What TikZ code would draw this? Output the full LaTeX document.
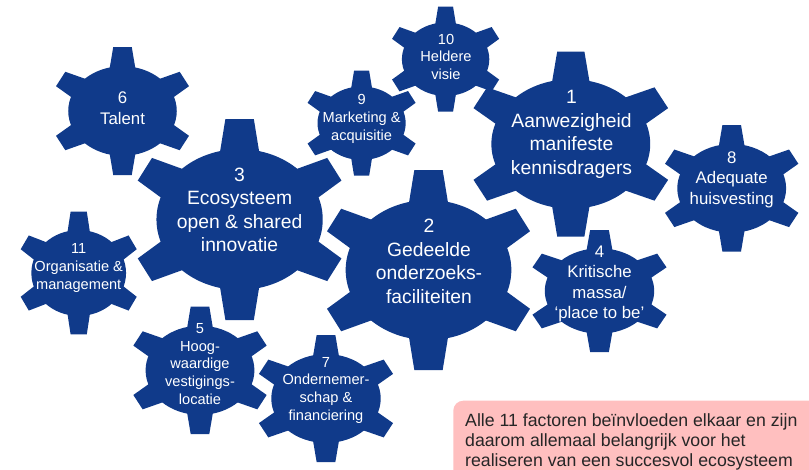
\documentclass[tikz,border=0pt]{standalone}
\usepackage{fontspec}
\setmainfont{Liberation Sans}
\definecolor{gearblue}{RGB}{16,58,138}
\definecolor{notepink}{RGB}{255,191,191}
\newcommand{\mygear}[4]{%
  \begin{scope}[shift={(#1,#2)}, xscale=#3, yscale=#4]
    \fill[gearblue] (0,0) ellipse [x radius=0.76, y radius=0.70];
    \foreach \a in {30,90,150,210,270,330}{
      \fill[gearblue, rotate=\a] (0.6,-0.19) -- (1,-0.13) -- (1,0.13) -- (0.6,0.19) -- cycle;}
  \end{scope}}
\begin{document}
\begin{tikzpicture}[x=1pt,y=-1pt,
  big/.style={text=white, align=center, inner sep=0pt, font=\fontsize{19.3}{23.5}\selectfont},
  mid/.style={text=white, align=center, inner sep=0pt, font=\fontsize{16.8}{20.5}\selectfont},
  small/.style={text=white, align=center, inner sep=0pt, font=\fontsize{14.6}{17.7}\selectfont},
  notetext/.style={text=black!85, align=left, inner sep=0pt, anchor=west, font=\fontsize{17.7}{20}\selectfont}]
\useasboundingbox (0,0) rectangle (809,469);
% gears
\mygear{122.5}{111}{71.4}{64}
\mygear{239.6}{219.5}{109.4}{100.5}
\mygear{445.6}{59.2}{57.5}{52.5}
\mygear{361.6}{123.2}{58}{52.5}
\mygear{570.8}{144}{104.5}{92.5}
\mygear{731.7}{188.3}{71.6}{63.3}
\mygear{428.5}{270}{109}{100}
\mygear{599.5}{291}{72}{61}
\mygear{78.7}{273}{62.3}{61.3}
\mygear{200}{370.3}{71.6}{63.7}
\mygear{326}{398.5}{72}{63.5}
% labels
\node[mid]   (g6)  at (122.5,108.3) {6\\Talent};
\node[big]   (g3)  at (239.6,210)   {3\\Ecosysteem\\open \& shared\\innovatie};
\node[small] (g10) at (446,56.7)    {10\\Heldere\\visie};
\node[small] (g9)  at (361.6,119)   {9\\Marketing \&\\acquisitie};
\node[big]   (g1)  at (571.5,134.3) {1\\Aanwezigheid\\manifeste\\kennisdragers};
\node[mid]   (g8)  at (731.7,179.7) {8\\Adequate\\huisvesting};
\node[big]   (g2)  at (429,261.4)   {2\\Gedeelde\\onderzoeks-\\faciliteiten};
\node[mid]   (g4)  at (599.5,283.8) {4\\Kritische\\massa/\\‘place to be’};
\node[small] (g11) at (78.7,268)    {11\\Organisatie \&\\management};
\node[small] (g5)  at (200,363.8)   {5\\Hoog-\\waardige\\vestigings-\\locatie};
\node[small] (g7)  at (326,390.3)   {7\\Ondernemer-\\schap \&\\financiering};
% note box
\fill[notepink, rounded corners=10pt] (453.3,400.7) rectangle (840,500);
\node[notetext] (note) at (465,441.7) {Alle 11 factoren beïnvloeden elkaar en zijn\\daarom allemaal belangrijk voor het\\realiseren van een succesvol ecosysteem};
\end{tikzpicture}
\end{document}
